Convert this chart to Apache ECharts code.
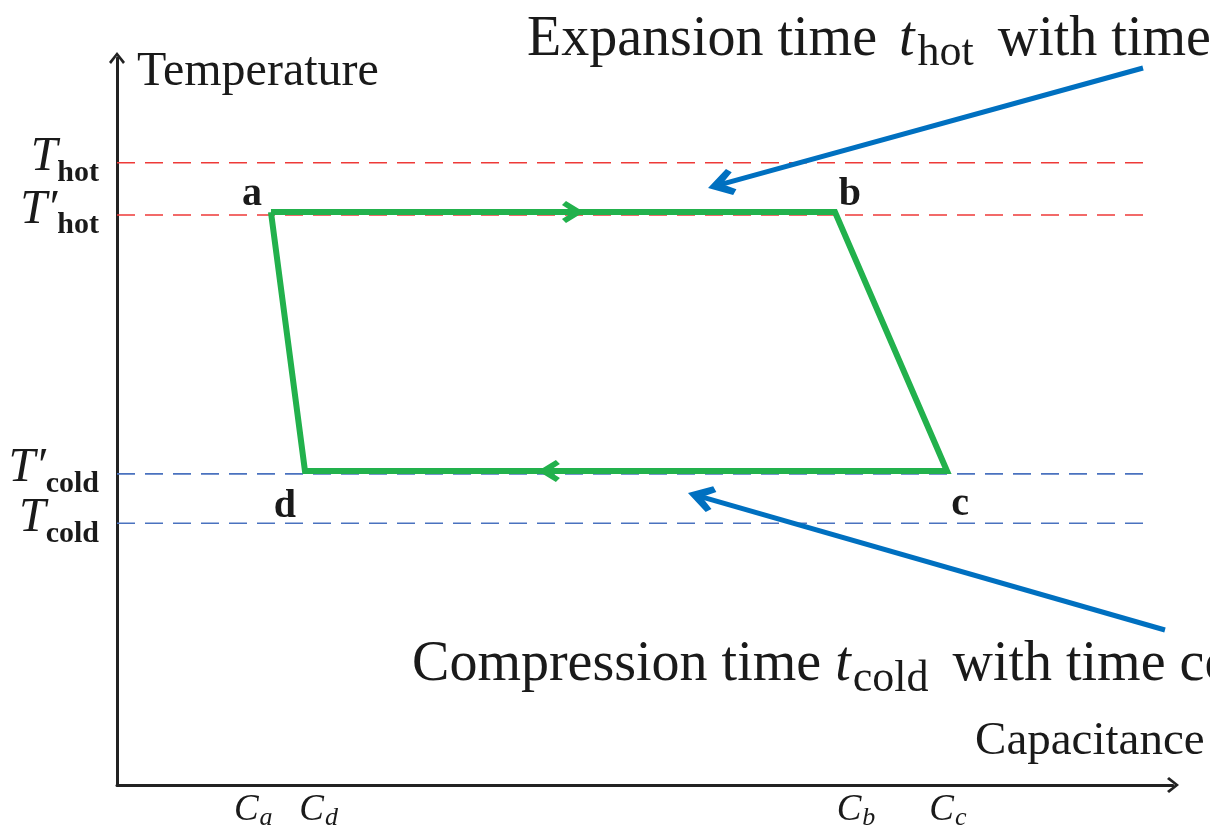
<!DOCTYPE html>
<html><head><meta charset="utf-8">
<script src="https://cdn.jsdelivr.net/npm/echarts@6/dist/echarts.min.js"></script>
<style>html,body{margin:0;padding:0;background:#fff}#c{width:1210px;height:837px}</style>
</head><body><div id="c"></div>
<script>
// ---- data (relative units: Capacitance 0..100, Temperature 0..100) ----
const cornerNames = ['a', 'b', 'c', 'd'];
const cornerX = [14.58, 67.99, 78.60, 17.80];
const cornerY = [78.8, 78.8, 43.2, 43.2];

// reference temperature levels (dashed lines) and their tick labels
const tempLevels = [85.6, 78.4, 42.8, 36.0];
const tempMain = ['T', 'T\u2032', 'T\u2032', 'T'];
const tempSub = ['hot', 'hot', 'cold', 'cold'];
const dashEnd = 97.35;

// capacitance tick labels
const capTicks = [12.9, 19.1, 69.98, 78.69];
const capSub = ['a', 'd', 'b', 'c'];

// direction marks on the cycle (x position, y level, direction)
const dirX = [43.18, 40.9];
const dirY = [78.8, 43.2];
const dirAngle = [0, 180];

// annotation arrows: start and tip
const annStart = [[97.16, 98.62], [99.24, 21.32]];
const annTip = [[55.97, 82.12], [54.07, 40.17]];

// annotation texts: anchor (left, middle) and content
const annPos = [[38.83, 102.5], [27.94, 16.4]];
const annMain = ['Expansion time ', 'Compression time '];
const annSub = ['hot', 'cold'];
const annTail = [' with time constant', ' with time constant'];

// axis titles
const xTitle = 'Capacitance';
const xTitlePos = [103.0, 5.9];
const yTitle = 'Temperature';

// ---- chart ----
const SERIF = "'Liberation Serif', 'Times New Roman', serif";
const INK = '#1a1a1a';
const chevBlue = 'path://M0,4.5 L4.5,0 L26,13 L4.5,26 L0,21.5 L12,13 Z';
const chevGreen = 'path://M0,4 L4,0 L22,11 L4,22 L0,18 L11,11 Z';
const chevUp = 'path://M0,10 L8,0 L16,10 L14,12 L8,4 L2,12 Z';

const chart = echarts.init(document.getElementById('c'));

const dashSeries = tempLevels.map((v, i) => ({
  type: 'line', silent: true, z: 1, symbol: 'none',
  data: [[0, v], [dashEnd, v]],
  lineStyle: { color: i < 2 ? '#ee3a38' : '#4a72bf', width: 1.6, type: [18, 10] }
}));

const cycle = cornerNames.map((n, i) => [cornerX[i], cornerY[i]]);
const hidden = { color: 'rgba(0,0,0,0)', opacity: 1 };
const nearest = (arr, v) => { let i = 0; arr.forEach((t, k) => { if (Math.abs(t - v) < Math.abs(arr[i] - v)) i = k; }); return i; };

const option = {
  animation: false,
  backgroundColor: '#fff',
  grid: { left: 117, right: 37, top: 58, bottom: 52, containLabel: false, outerBoundsMode: 'none' },
  xAxis: {
    type: 'value', min: 0, max: 100,
    axisLine: { show: true, onZero: false, symbol: ['none', chevUp], symbolSize: [16, 12], lineStyle: { color: '#222', width: 3 } },
    axisTick: { show: false }, splitLine: { show: false },
    axisLabel: {
      customValues: capTicks.slice().sort((p, q) => p - q), margin: 13, hideOverlap: false,
      formatter: v => '{c|C}{s|' + capSub[nearest(capTicks, v)] + '}',
      rich: {
        c: { fontFamily: SERIF, fontStyle: 'italic', fontSize: 37, lineHeight: 24, color: INK, verticalAlign: 'middle' },
        s: { fontFamily: SERIF, fontStyle: 'italic', fontSize: 26, lineHeight: 14, color: INK, padding: [17, 0, 0, 1], verticalAlign: 'middle' }
      }
    }
  },
  yAxis: {
    type: 'value', min: 0, max: 100,
    name: yTitle, nameLocation: 'end', nameGap: -14, nameMoveOverlap: false,
    nameTextStyle: { fontFamily: SERIF, fontSize: 48, color: INK, align: 'left', verticalAlign: 'middle', padding: [0, 0, 0, 20] },
    axisLine: { show: true, onZero: false, symbol: ['none', chevUp], symbolSize: [16, 12], lineStyle: { color: '#222', width: 3 } },
    axisTick: { show: false }, splitLine: { show: false },
    axisLabel: { show: false }
  },
  series: [
    ...dashSeries,
    {
      // temperature level labels, anchored at the axis
      type: 'scatter', silent: true, z: 6, clip: false,
      symbol: 'circle', symbolSize: 1, itemStyle: hidden,
      data: tempLevels.map(v => ({ value: [0, v] })),
      label: {
        show: true, position: 'inside', align: 'right', verticalAlign: 'middle', offset: [-18, 0],
        formatter: p => '{t|' + tempMain[p.dataIndex] + '}{h|' + tempSub[p.dataIndex] + '}',
        rich: {
          t: { fontFamily: SERIF, fontStyle: 'italic', fontSize: 48, lineHeight: 24, color: INK, padding: [0, 0, 10, 0], verticalAlign: 'middle' },
          h: { fontFamily: SERIF, fontWeight: 'bold', fontSize: 30, lineHeight: 14, color: INK, padding: [21, 0, 0, 0], verticalAlign: 'middle' }
        }
      }
    },
    {
      type: 'line', silent: true, z: 3, symbol: 'none',
      data: cycle.concat([cycle[0]]),
      lineStyle: { color: '#22b14c', width: 6, join: 'miter', cap: 'butt' }
    },
    {
      type: 'scatter', silent: true, z: 4, clip: false,
      data: dirX.map((x, i) => ({ value: [x, dirY[i]], symbolRotate: dirAngle[i] })),
      symbol: chevGreen, symbolSize: [22, 22], itemStyle: { color: '#22b14c', opacity: 1 }
    },
    {
      type: 'scatter', silent: true, z: 6, clip: false,
      symbol: 'circle', symbolSize: 1, itemStyle: hidden,
      data: cornerNames.map((n, i) => ({ name: n, value: [cornerX[i], cornerY[i]] })),
      label: {
        show: true, position: 'inside', formatter: '{b}',
        fontFamily: SERIF, fontWeight: 'bold', fontSize: 40, color: INK
      },
      labelLayout: p => {
        const off = [[-19, -17], [15, -17], [13, 34], [-20, 36]][p.dataIndex];
        return { dx: off[0], dy: off[1] };
      }
    },
    ...annStart.map((s, i) => ({
      id: 'annLine' + i, type: 'line', silent: true, z: 7, symbol: 'none',
      data: [s, annTip[i]], lineStyle: { color: '#0070c0', width: 5, cap: 'butt' }
    })),
    {
      id: 'annHead', type: 'scatter', silent: true, z: 8, clip: false,
      symbol: chevBlue, symbolSize: [27, 27], itemStyle: { color: '#0070c0', opacity: 1 }, data: []
    },
    {
      type: 'scatter', silent: true, z: 9, clip: false,
      symbol: 'circle', symbolSize: 1, itemStyle: hidden,
      data: annPos.map(p => ({ value: p })),
      label: {
        show: true, position: 'inside', align: 'left', verticalAlign: 'middle',
        formatter: p => '{n|' + annMain[p.dataIndex] + '}{i' + p.dataIndex + '|t}{s|' + annSub[p.dataIndex] + '}{n|' + annTail[p.dataIndex] + '}',
        rich: {
          n: { fontFamily: SERIF, fontSize: 56, lineHeight: 56, color: INK, verticalAlign: 'middle' },
          i0: { fontFamily: SERIF, fontStyle: 'italic', fontSize: 56, lineHeight: 56, color: INK, verticalAlign: 'middle', padding: [0, 3, 0, 8] },
          i1: { fontFamily: SERIF, fontStyle: 'italic', fontSize: 56, lineHeight: 56, color: INK, verticalAlign: 'middle', padding: [0, 2, 0, 0] },
          s: { fontFamily: SERIF, fontSize: 44, lineHeight: 44, color: INK, padding: [28, 10, 0, 0], verticalAlign: 'middle' }
        }
      }
    },
    {
      type: 'scatter', silent: true, z: 9, clip: false,
      symbol: 'circle', symbolSize: 1, itemStyle: hidden,
      data: [{ name: xTitle, value: xTitlePos }],
      label: {
        show: true, position: 'inside', align: 'right', verticalAlign: 'middle', formatter: '{b}',
        fontFamily: SERIF, fontSize: 47, color: INK
      }
    }
  ]
};
chart.setOption(option);

// place arrowheads of the annotation arrows along each line's direction
const heads = [];
const lineUpdates = [];
annStart.forEach((s, i) => {
  const ps = chart.convertToPixel({ gridIndex: 0 }, s);
  const pt = chart.convertToPixel({ gridIndex: 0 }, annTip[i]);
  const dx = pt[0] - ps[0], dy = pt[1] - ps[1];
  const L = Math.hypot(dx, dy), ux = dx / L, uy = dy / L;
  const center = chart.convertFromPixel({ gridIndex: 0 }, [pt[0] - ux * 13.5, pt[1] - uy * 13.5]);
  const lineEnd = chart.convertFromPixel({ gridIndex: 0 }, [pt[0] - ux * 6, pt[1] - uy * 6]);
  heads.push({ value: center, symbolRotate: Math.atan2(-dy, dx) * 180 / Math.PI });
  lineUpdates.push({ id: 'annLine' + i, data: [s, lineEnd] });
});
chart.setOption({ series: lineUpdates.concat([{ id: 'annHead', data: heads }]) });
</script>
</body></html>
